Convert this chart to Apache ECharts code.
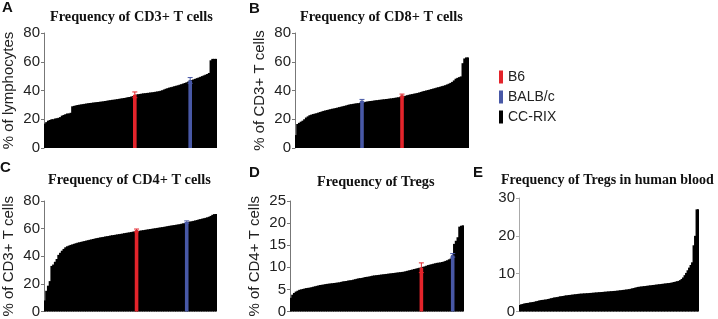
<!DOCTYPE html>
<html>
<head>
<meta charset="utf-8">
<script src="https://cdn.jsdelivr.net/npm/echarts@6.0.0/dist/echarts.min.js"></script>
<style>
  html, body { margin: 0; padding: 0; background: #fff; }
  #chart { width: 718px; height: 319px; }
</style>
</head>
<body>
<div id="chart"></div>
<script>
// sorted CC-RIX values, one bar per line
var cd3Values = [17, 18, 19, 19.5, 20, 20, 20.5, 20.7, 21, 21.5, 22.5, 23, 23.5, 24, 24, 24.5,
  29, 29.3, 29.6, 29.9, 30.1, 30.3, 30.5, 30.7, 30.9, 31.1,
  31.3, 31.4, 31.6, 31.7, 31.9, 32, 32.2, 32.3, 32.5, 32.7,
  32.9, 33.1, 33.3, 33.5, 33.6, 33.8, 34, 34.2, 34.4, 34.6,
  34.8, 35, 35.3, 35.5, 35.8, 36.1,
  36.5,
  37.2, 37.4, 37.6, 37.8, 38, 38.1, 38.3, 38.4, 38.6, 38.7,
  38.9, 39.1, 39.3, 39.5, 39.8, 40.2, 40.7, 41.2, 41.6, 42,
  42.3, 42.6, 43, 43.3, 43.6, 44, 44.4, 44.8, 45.2, 45.7, 46.2,
  47,
  47.3, 47.7, 48.1, 48.6, 49, 49.5, 50, 50.5, 51, 51.5, 52.2,
  61, 62, 62, 62];
var cd8Values = [9, 16.7, 17.5, 18.3, 19, 20, 21.2, 22, 22.8, 23.2,
  23.6, 23.9, 24.2, 24.6, 25, 25.4, 25.8, 26.1, 26.4, 26.7,
  27, 27.3, 27.5, 27.8, 28.1, 28.4, 28.7, 29, 29.3, 29.6,
  30, 30.3, 30.5, 30.7, 30.9, 31.1, 31.2, 31.4,
  32.8,
  31.8, 32.1, 32.3, 32.5, 32.7, 32.8, 33, 33.2, 33.3, 33.5,
  33.6, 33.8, 33.9, 34.1, 34.2, 34.4, 34.5, 34.7, 34.9, 35.1, 35.3, 35.6,
  36.5,
  36, 36.3, 36.7, 37, 37.3, 37.5, 37.8, 38, 38.3, 38.6,
  39, 39.4, 39.7, 40, 40.3, 40.6, 41, 41.3, 41.6, 42,
  42.3, 42.6, 43, 43.3, 43.7, 44.2, 44.7, 45.3, 46, 47,
  48.2, 48.8, 49.3, 49.8,
  59, 62.3, 63, 63];
var cd4Values = [8, 15, 18.7, 22, 33, 34, 36, 38, 41, 42.5,
  44, 45.3, 46.5, 47.2, 47.7, 48.2, 48.6, 49, 49.4, 49.8, 50.1, 50.4,
  50.7, 51, 51.3, 51.6, 51.9, 52.2, 52.5, 52.8, 53.1, 53.3,
  53.6, 53.8, 54, 54.3, 54.5, 54.7, 55, 55.2, 55.4, 55.6,
  55.8, 56, 56.2, 56.4, 56.7, 56.9, 57.1, 57.3, 57.5, 57.8, 58,
  58.7,
  58.3, 58.5, 58.7, 58.9, 59.1, 59.3, 59.5, 59.7, 59.9, 60.1,
  60.3, 60.5, 60.7, 60.9, 61.1, 61.3, 61.5, 61.8, 62, 62.2,
  62.4, 62.6, 62.8, 63, 63.2, 63.5, 63.8, 64.1,
  64.8,
  64.9, 65.1, 65.3, 65.6, 65.9, 66.2, 66.6, 66.9, 67.2, 67.5,
  67.8, 68.2, 68.6, 69.2, 70, 70.5, 70.6];
var tregValues = [3.1, 3.8, 4.2, 4.5, 4.7, 4.9, 5, 5.1, 5.2, 5.3,
  5.35, 5.4, 5.5, 5.6, 5.7, 5.8, 5.9, 6, 6.05, 6.1,
  6.2, 6.25, 6.3, 6.35, 6.4, 6.45, 6.5, 6.55, 6.6, 6.7,
  6.8, 6.85, 6.9, 7, 7.05, 7.1, 7.2, 7.3, 7.4, 7.5,
  7.55, 7.6, 7.7, 7.8, 7.85, 7.9, 8, 8.1, 8.15, 8.2,
  8.25, 8.3, 8.35, 8.4, 8.45, 8.5, 8.55, 8.6, 8.65, 8.7,
  8.75, 8.8, 8.85, 8.9, 8.95, 9, 9.1, 9.2, 9.3, 9.4,
  9.5, 9.6, 9.7, 9.8, 9.9,
  9.9,
  10.1, 10.2, 10.35, 10.5, 10.6, 10.7, 10.8, 10.9, 11, 11.05,
  11.1, 11.2, 11.3, 11.45, 11.6, 11.8, 12,
  12.7,
  15.3, 16, 16.8, 19.2, 19.4, 19.5];
var humanValues = [1.7, 1.9, 2, 2.1, 2.2, 2.25, 2.3, 2.4, 2.45, 2.5,
  2.6, 2.7, 2.8, 2.9, 3, 3.05, 3.1, 3.15, 3.2, 3.3,
  3.4, 3.5, 3.6, 3.7, 3.75, 3.8, 3.9, 4, 4.05, 4.1,
  4.2, 4.25, 4.3, 4.35, 4.4, 4.45, 4.5, 4.55, 4.6, 4.65,
  4.7, 4.72, 4.75, 4.78, 4.8, 4.83, 4.86, 4.9, 4.93, 4.96,
  5, 5.03, 5.06, 5.1, 5.13, 5.16, 5.2, 5.23, 5.26, 5.3,
  5.33, 5.36, 5.4, 5.43, 5.46, 5.5, 5.55, 5.6, 5.65, 5.7,
  5.75, 5.8, 5.85, 5.9, 6, 6.1, 6.2, 6.3, 6.4, 6.5,
  6.55, 6.6, 6.65, 6.7, 6.75, 6.8, 6.85, 6.9, 6.95, 7,
  7.05, 7.1, 7.15, 7.2, 7.25, 7.3, 7.35, 7.4, 7.45, 7.5,
  7.55, 7.6, 7.7, 7.8, 7.9, 8, 8.1, 8.3, 8.6, 9,
  9.6, 10.2, 10.9, 11.6, 12.3, 13, 17.5, 20, 27, 27];

// parental strains: [rank position, mean, sd]
var cd3B6 = [52, 37, 2], cd3Balb = [84, 47, 2];
var cd8B6 = [61, 36.5, 1], cd8Balb = [38, 32.8, 1];
var cd4B6 = [53, 58.7, 1], cd4Balb = [82, 64.8, 0.8];
var tregB6 = [75, 9.9, 1.1], tregBalb = [93, 12.7, 0.4];

var panelLetters = ['A', 'B', 'C', 'D', 'E'];
var panelTitles = ['Frequency of CD3+ T cells', 'Frequency of CD8+ T cells',
  'Frequency of CD4+ T cells', 'Frequency of Tregs', 'Frequency of Tregs in human blood'];
var yNames = ['% of lymphocytes', '% of CD3+ T cells', '% of CD3+ T cells', '% of CD4+ T cells', ''];
var yMax = [80, 80, 80, 25, 30];
var yStep = [20, 20, 20, 5, 10];

var RED = '#e3242b', BLUE = '#4858a6';
var sans = 'Liberation Sans, Arial, sans-serif';
var serif = 'Liberation Serif, Times New Roman, serif';

var panels = [
  { values: cd3Values, b6: cd3B6, balb: cd3Balb, grid: { left: 42, top: 33, width: 175, height: 115 }, title: [50, 10], titleSize: 14.3, letter: [2, 0] },
  { values: cd8Values, b6: cd8B6, balb: cd8Balb, grid: { left: 295, top: 33, width: 174, height: 115 }, title: [300, 10], titleSize: 14.3, letter: [249, 1] },
  { values: cd4Values, b6: cd4B6, balb: cd4Balb, grid: { left: 44, top: 201, width: 173, height: 114 }, title: [48, 173], titleSize: 14.3, letter: [0, 160] },
  { values: tregValues, b6: tregB6, balb: tregBalb, grid: { left: 290, top: 201, width: 174, height: 113 }, title: [317, 175], titleSize: 14.3, letter: [249, 165] },
  { values: humanValues, b6: null, balb: null, grid: { left: 519, top: 198, width: 180, height: 116 }, title: [501, 173], titleSize: 14, letter: [473, 165] }
];

function renderStrain(params, api) {
  var x = api.value(0), v = api.value(1), sd = api.value(2);
  var base = api.coord([x, 0]);
  var top = api.coord([x, v]);
  var hi = api.coord([x, v + sd]);
  var lo = api.coord([x, v - sd]);
  var color = api.visual('color');
  var w = 3.6;
  return {
    type: 'group',
    children: [
      { type: 'rect', shape: { x: base[0] - w / 2, y: top[1], width: w, height: base[1] - top[1] }, style: { fill: color } },
      { type: 'line', shape: { x1: hi[0], y1: hi[1], x2: lo[0], y2: lo[1] }, style: { stroke: color, lineWidth: 1 } },
      { type: 'line', shape: { x1: hi[0] - 2.5, y1: hi[1], x2: hi[0] + 2.5, y2: hi[1] }, style: { stroke: color, lineWidth: 1 } },
      { type: 'line', shape: { x1: lo[0] - 2.5, y1: lo[1], x2: lo[0] + 2.5, y2: lo[1] }, style: { stroke: color, lineWidth: 1 } }
    ]
  };
}

var titles = [], grids = [], xAxes = [], yAxes = [], series = [];
panels.forEach(function (p, k) {
  titles.push({
    text: panelLetters[k], left: p.letter[0], top: p.letter[1], padding: 0,
    textStyle: { fontFamily: sans, fontWeight: 'bold', fontSize: 15, color: '#111' }
  });
  titles.push({
    text: panelTitles[k], left: p.title[0], top: p.title[1], padding: 0,
    textStyle: { fontFamily: serif, fontWeight: 'bold', fontSize: p.titleSize, color: '#111' }
  });
  grids.push(p.grid);
  xAxes.push({
    type: 'category', gridIndex: k,
    data: p.values.map(function (v, i) { return i; }),
    axisLine: { show: false }, axisTick: { show: false }, axisLabel: { show: false }
  });
  yAxes.push({
    type: 'value', gridIndex: k, min: 0, max: yMax[k], interval: yStep[k],
    name: yNames[k], nameLocation: 'middle', nameGap: 28,
    nameTextStyle: { fontFamily: sans, fontSize: 15, color: '#222' },
    axisLine: { show: true, lineStyle: { color: k === 4 ? '#aaa' : '#777', width: 1 } },
    axisTick: { show: true, length: 3, lineStyle: { color: k === 4 ? '#aaa' : '#777' } },
    axisLabel: { fontFamily: sans, fontSize: 15, color: '#222', margin: 4 },
    splitLine: { show: false }
  });
  series.push({
    name: 'CC-RIX', type: 'bar', xAxisIndex: k, yAxisIndex: k, z: 2,
    data: p.values, barWidth: '160%', silent: true,
    itemStyle: { color: '#000' }
  });
  if (p.b6) {
    series.push({
      name: 'B6', type: 'custom', xAxisIndex: k, yAxisIndex: k, silent: true, z: 5,
      renderItem: renderStrain, itemStyle: { color: RED },
      encode: { x: 0, y: 1 }, data: [p.b6]
    });
    series.push({
      name: 'BALB/c', type: 'custom', xAxisIndex: k, yAxisIndex: k, silent: true, z: 5,
      renderItem: renderStrain, itemStyle: { color: BLUE },
      encode: { x: 0, y: 1 }, data: [p.balb]
    });
  }
});

var chart = echarts.init(document.getElementById('chart'), null, { renderer: 'canvas' });
chart.setOption({
  animation: false,
  backgroundColor: '#fff',
  title: titles,
  legend: {
    data: ['B6', 'BALB/c', 'CC-RIX'],
    orient: 'vertical', left: 494, top: 65,
    icon: 'rect', itemWidth: 4, itemHeight: 13, itemGap: 6,
    selectedMode: false,
    textStyle: { fontFamily: sans, fontSize: 14, color: '#222' }
  },
  grid: grids,
  xAxis: xAxes,
  yAxis: yAxes,
  series: series
});
</script>
</body>
</html>
